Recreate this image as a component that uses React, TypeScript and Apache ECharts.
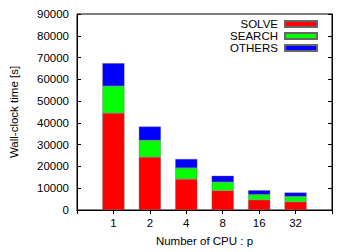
import React, { useEffect, useRef } from "react";
import * as echarts from "echarts";

const categories = ["1", "2", "4", "8", "16", "32"];
const solve = [44500, 24300, 14200, 8900, 4650, 3750];
const search = [12400, 7700, 5100, 3900, 2450, 2450];
const others = [10500, 6300, 4100, 2900, 1950, 1800];
const yTicks = [0, 10000, 20000, 30000, 40000, 50000, 60000, 70000, 80000, 90000];

const FONT = "Liberation Sans";

export default function App() {
  const ref = useRef<HTMLDivElement>(null);
  useEffect(() => {
    const chart = echarts.init(ref.current!, null, { renderer: "svg" });
    // pad with empty slots at both ends so categories sit at positions 1..6 of a 0..7 range
    const cats = ["", ...categories, ""];
    const pad = (arr: number[]) => [null, ...arr, null];
    const mk = (name: string, arr: number[], color: string) => ({
      name,
      type: "bar",
      stack: "total",
      data: pad(arr),
      barWidth: 22,
      itemStyle: { color, borderColor: "#666", borderWidth: 0.4 },
    });
    const xBase = {
      type: "category",
      data: cats,
      boundaryGap: false,
      axisLine: { show: true, lineStyle: { color: "#000" } },
      axisTick: { show: true, inside: true, length: 4, lineStyle: { color: "#000" } },
      splitLine: { show: false },
    };
    chart.setOption({
      animation: false,
      textStyle: { fontFamily: FONT },
      grid: {
        left: 73,
        right: 28,
        top: 14,
        bottom: 39,
        show: true,
        borderColor: "#000",
        borderWidth: 1,
        backgroundColor: "transparent",
      },
      legend: {
        orient: "vertical",
        align: "right",
        right: 42,
        top: 18,
        padding: 0,
        itemWidth: 32,
        itemHeight: 6,
        itemGap: 0,
        icon: "rect",
        textStyle: { fontFamily: FONT, fontSize: 11.5, color: "#000", lineHeight: 11, padding: [0, 2, 0, 0] },
        data: ["SOLVE", "SEARCH", "OTHERS"],
      },
      xAxis: [
        {
          ...xBase,
          position: "bottom",
          name: "Number of CPU : p",
          nameLocation: "middle",
          nameGap: 25,
          nameTextStyle: { fontFamily: FONT, fontSize: 11.5, color: "#000" },
          axisLabel: { fontFamily: FONT, fontSize: 11.5, color: "#000", margin: 7, interval: 0 },
        },
        {
          ...xBase,
          position: "top",
          axisLabel: { show: false },
        },
      ],
      yAxis: [
        {
          type: "value",
          min: 0,
          max: 90000,
          interval: 10000,
          name: "Wall-clock time [s]",
          nameLocation: "middle",
          nameGap: 57,
          nameTextStyle: { fontFamily: FONT, fontSize: 11.5, color: "#000" },
          axisLine: { show: true, lineStyle: { color: "#000" } },
          axisTick: { show: true, inside: true, length: 4, lineStyle: { color: "#000" } },
          axisLabel: {
            formatter: (v: number) => (yTicks.includes(v) ? String(v) : ""),
            fontFamily: FONT,
            fontSize: 11.5,
            color: "#000",
            margin: 8,
          },
          splitLine: { show: false },
        },
        {
          type: "value",
          min: 0,
          max: 90000,
          interval: 10000,
          position: "right",
          axisLine: { show: true, lineStyle: { color: "#000" } },
          axisTick: { show: true, inside: true, length: 4, lineStyle: { color: "#000" } },
          axisLabel: { show: false },
          splitLine: { show: false },
        },
      ],
      series: [
        mk("SOLVE", solve, "#ff0000"),
        mk("SEARCH", search, "#00ff00"),
        mk("OTHERS", others, "#0000ff"),
      ],
    });
    return () => chart.dispose();
  }, []);
  return <div ref={ref} style={{ width: 360, height: 252, position: "absolute", left: 0, top: 0 }} />;
}
